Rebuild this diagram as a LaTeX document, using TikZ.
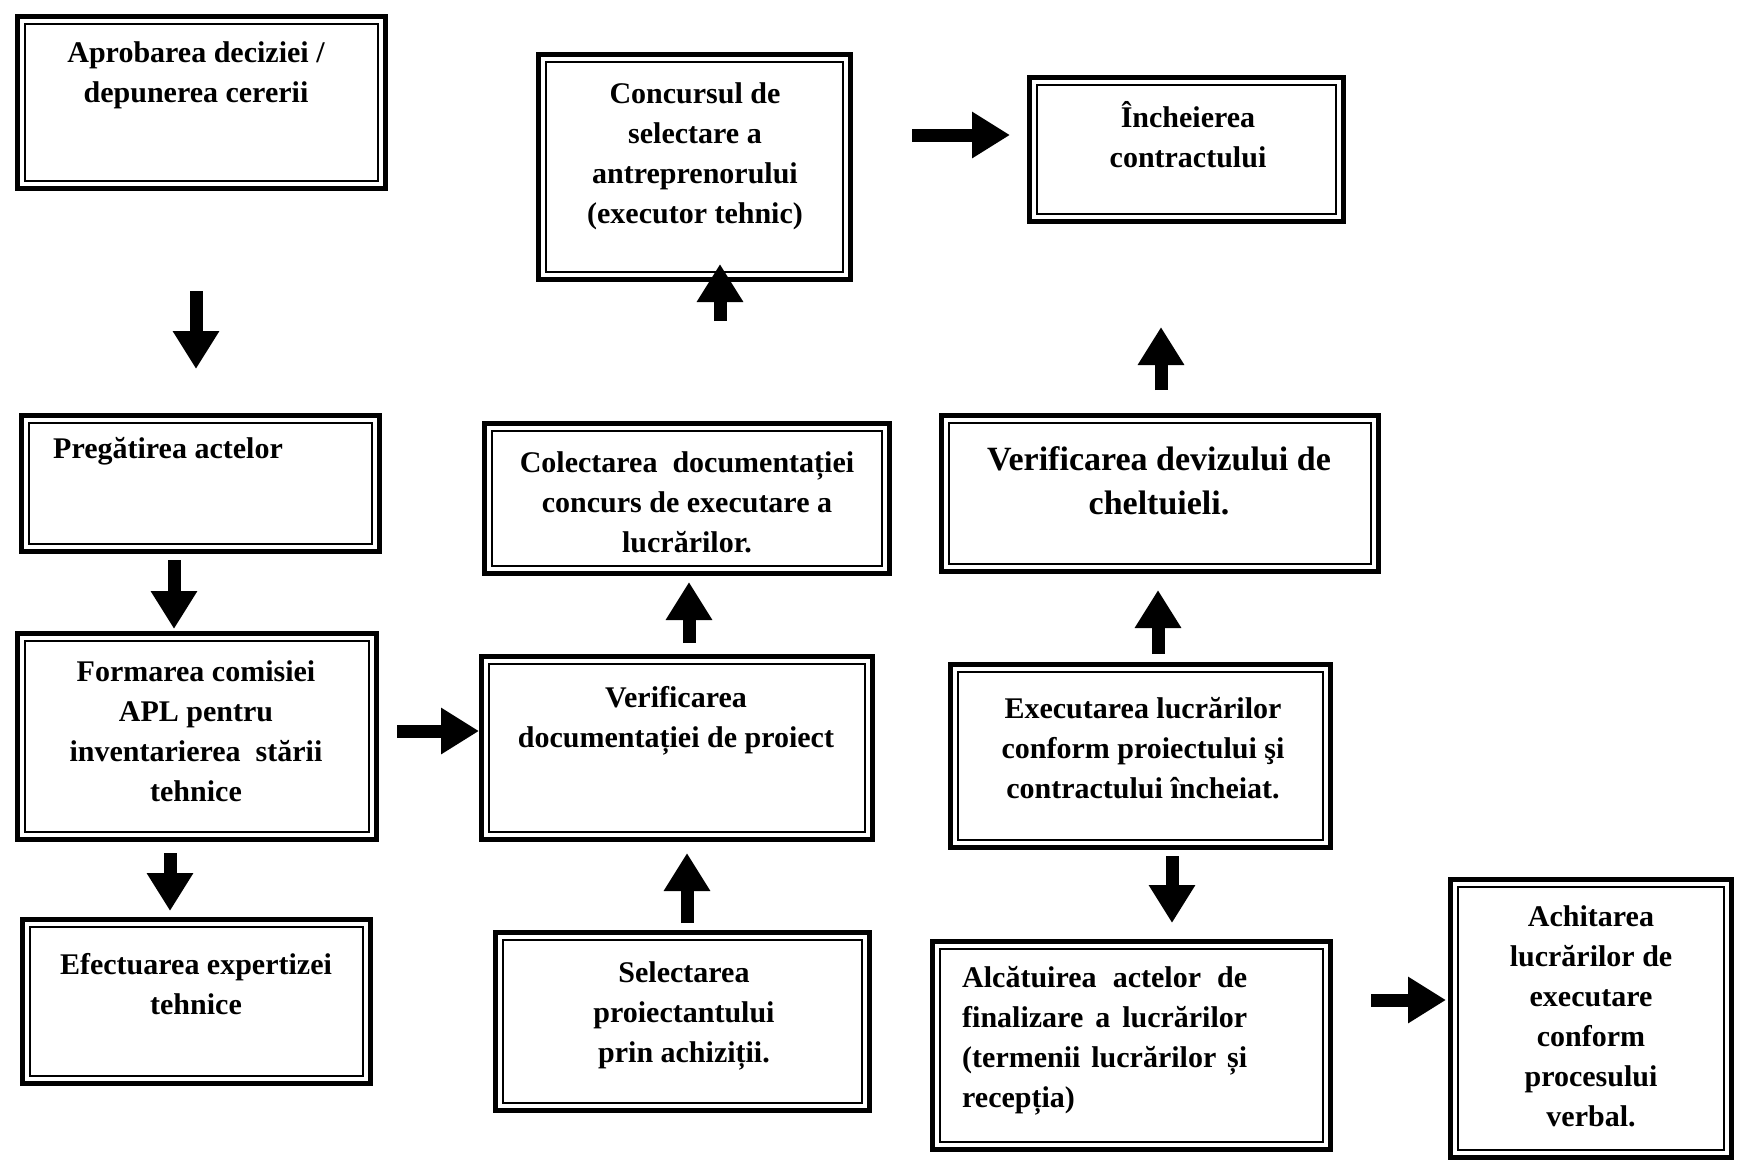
\documentclass[tikz,border=0pt]{standalone}
\usepackage{fontspec}
\setmainfont{Liberation Serif}
\usetikzlibrary{arrows.meta}
\tikzset{
 frame/.style={draw, line width=5pt, fill=white, inner sep=0pt,
   path picture={\draw[line width=1.6pt]
     ([shift={(7.5pt,-7.5pt)}]path picture bounding box.north west) rectangle
     ([shift={(-7.5pt,7.5pt)}]path picture bounding box.south east);}},
 txt/.style={font=\fontsize{30}{40}\selectfont\bfseries, align=center, inner sep=0pt},
 bigtxt/.style={font=\fontsize{34}{44}\selectfont\bfseries, align=center, inner sep=0pt},
 barrow/.style={line width=13pt, -{Triangle[width=44pt,length=38pt]}},
}
\newcommand\bx[5]{\node[frame, minimum width=#4pt, minimum height=#5pt] (#1) at (#2,#3) {};}
\begin{document}
\begin{tikzpicture}[x=1pt,y=-1pt]
\useasboundingbox[fill=white] (0,0) rectangle (1737,1163);

% boxes
\bx{b1}{201.5}{102.5}{368}{172}
\bx{b2}{200.5}{483.5}{358}{136}
\bx{b3}{197}{736.5}{359}{206}
\bx{b4}{196.5}{1001.5}{348}{164}
\bx{b5}{694.5}{167}{312}{225}
\bx{b6}{687}{498.5}{405}{150}
\bx{b7}{677}{748}{391}{183}
\bx{b8}{682.5}{1021.5}{374}{178}
\bx{b9}{1186.5}{149.5}{314}{144}
\bx{b10}{1160}{493.5}{437}{156}
\bx{b11}{1140.5}{756}{380}{183}
\bx{b12}{1131.5}{1045.5}{398}{208}
\bx{b13}{1591}{1018.5}{281}{278}

% texts
\node[txt] (t1) at (196,75) {Aprobarea deciziei /\\depunerea cererii};
\node[txt, anchor=west] (t2) at (53,451) {Pregătirea actelor};
\node[txt] (t3) at (196,731) {Formarea comisiei\\APL pentru\\inventarierea~ stării\\tehnice};
\node[txt] (t4) at (196,984) {Efectuarea expertizei\\tehnice};
\node[txt] (t5) at (695,156) {Concursul de\\selectare a\\antreprenorului\\(executor tehnic)};
\node[txt] (t6) at (687,502) {Colectarea~ documentației\\concurs de executare a\\lucrărilor.};
\node[txt] (t7) at (676,721) {Verificarea\\documentației de proiect};
\node[txt] (t8) at (684,1016) {Selectarea\\proiectantului\\prin achiziții.};
\node[txt] (t9) at (1188,135) {Încheierea\\contractului};
\node[bigtxt] (t10) at (1159,481) {Verificarea devizului de\\cheltuieli.};
\node[txt] (t11) at (1143,748) {Executarea lucrărilor\\conform proiectului şi\\contractului încheiat.};
\node[txt, align=left, anchor=west] (t12) at (962,1041) {\makebox[285pt][s]{Alcătuirea actelor de}\\\makebox[285pt][s]{finalizare a lucrărilor}\\\makebox[285pt][s]{(termenii lucrărilor și}\\recepția)};
\node[txt] (t13) at (1591,1016) {Achitarea\\lucrărilor de\\executare\\conform\\procesului\\verbal.};

% arrow end points
\coordinate (a1s) at (196,291);  \coordinate (a1e) at (196,369);
\coordinate (a2s) at (174,560);  \coordinate (a2e) at (174,629);
\coordinate (a3s) at (170,853);  \coordinate (a3e) at (170,911);
\coordinate (a4s) at (397,731);  \coordinate (a4e) at (479,731);
\coordinate (a5s) at (687,923);  \coordinate (a5e) at (687,853);
\coordinate (a6s) at (689,643);  \coordinate (a6e) at (689,582);
\coordinate (a7s) at (720,321);  \coordinate (a7e) at (720,264);
\coordinate (a8s) at (912,135);  \coordinate (a8e) at (1010,135);
\coordinate (a9s) at (1161,390); \coordinate (a9e) at (1161,327);
\coordinate (a10s) at (1158,654); \coordinate (a10e) at (1158,590);
\coordinate (a11s) at (1172,856); \coordinate (a11e) at (1172,923);
\coordinate (a12s) at (1371,1000); \coordinate (a12e) at (1446,1000);

\foreach \i in {1,...,12} {\draw[barrow] (a\i s) -- (a\i e);}
\end{tikzpicture}
\end{document}
